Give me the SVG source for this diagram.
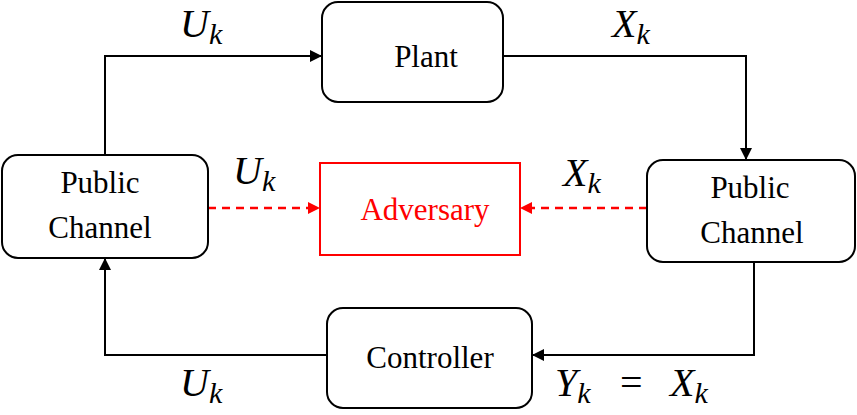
<svg xmlns="http://www.w3.org/2000/svg" width="857" height="415" viewBox="0 0 857 415">
<defs>
<marker id="a" markerWidth="12" markerHeight="12" refX="11" refY="6" orient="auto" markerUnits="userSpaceOnUse"><path d="M0,0 L12,6 L0,12 z" fill="#000"/></marker>
<marker id="r" markerWidth="12" markerHeight="12" refX="11" refY="6" orient="auto" markerUnits="userSpaceOnUse"><path d="M0,0 L12,6 L0,12 z" fill="#f00"/></marker>
</defs>
<style>
.b{fill:#fff;stroke:#000;stroke-width:2}
.t{font-family:"Liberation Serif",serif;font-size:31px;text-anchor:middle}
.m{font-family:"Liberation Serif",serif;font-size:40px;font-style:italic}
.s{font-size:30px}
.c{fill:none;stroke:#000;stroke-width:2;marker-end:url(#a)}
.d{fill:none;stroke:#f00;stroke-width:2.5;stroke-dasharray:8,6;marker-end:url(#r)}
</style>
<g id="connectors">
<path class="c" d="M105,155 V56 H321"/>
<path class="c" d="M503,56 H746 V159"/>
<path class="c" d="M754,262 V355 H533"/>
<path class="c" d="M327,355 H105 V259"/>
<path class="d" d="M208,208 H319"/>
<path class="d" d="M647,208 H521"/>
</g>
<g id="plant"><rect class="b" x="322" y="2" width="181" height="100" rx="16"/><text class="t" x="426" y="67">Plant</text></g>
<g id="left-channel"><rect class="b" x="2" y="155" width="206" height="103" rx="16"/><text class="t" x="100" y="193">Public</text><text class="t" x="100" y="238">Channel</text></g>
<g id="right-channel"><rect class="b" x="647" y="160" width="208" height="102" rx="16"/><text class="t" x="750" y="198">Public</text><text class="t" x="752" y="243">Channel</text></g>
<g id="adversary"><rect x="320" y="163" width="200" height="92" fill="#fff" stroke="#f00" stroke-width="2"/><text class="t" x="425" y="220" fill="#f00">Adversary</text></g>
<g id="controller"><rect class="b" x="327" y="308" width="205" height="100" rx="16"/><text class="t" x="430" y="368">Controller</text></g>
<g id="labels">
<text class="m" x="180" y="37">U<tspan class="s" dy="7">k</tspan></text>
<text class="m" x="612" y="37">X<tspan class="s" dy="7">k</tspan></text>
<text class="m" x="233" y="184">U<tspan class="s" dy="7">k</tspan></text>
<text class="m" x="563" y="186">X<tspan class="s" dy="7">k</tspan></text>
<text class="m" x="180" y="396">U<tspan class="s" dy="7">k</tspan></text>
<text class="m" x="555" y="396">Y<tspan class="s" dy="7">k</tspan><tspan x="620" dy="-7" font-style="normal">=</tspan><tspan x="670">X</tspan><tspan class="s" dy="7">k</tspan></text>
</g>
</svg>
